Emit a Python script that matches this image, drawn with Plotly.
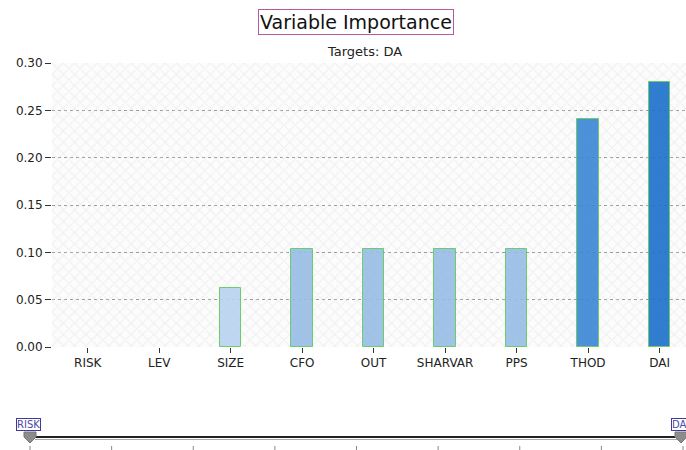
import plotly.graph_objects as go

# data
categories = ["RISK", "LEV", "SIZE", "CFO", "OUT", "SHARVAR", "PPS", "THOD", "DAI"]
importance = [0.0, 0.0, 0.0625, 0.104, 0.104, 0.104, 0.104, 0.241, 0.280]
bar_colors = ["#b9d3f0", "#b9d3f0", "#b9d3f0", "#98bde6", "#98bde6",
              "#98bde6", "#98bde6", "#3b86d6", "#1c70cc"]
slider_ends = ["RISK", "DA"]

W, H = 686, 450
L, T, B = 52, 63, 103
PW, PH = W - L, H - T - B


def px(x):
    return (x - L) / PW


def py(y):
    return (H - B - y) / PH


fig = go.Figure()

# crosshatch background behind the bars
fig.add_trace(go.Bar(
    x=[0.5], y=[0.3], width=[1], xaxis="x", yaxis="y",
    marker=dict(color="rgba(0,0,0,0)", line=dict(width=0),
                pattern=dict(shape="x", fgcolor="#e2e2e2", bgcolor="rgba(0,0,0,0)",
                             size=8, solidity=0.25)),
    hoverinfo="skip", showlegend=False,
))

fig.add_trace(go.Bar(
    x=categories, y=importance, xaxis="x2", yaxis="y",
    width=0.3, opacity=0.9,
    marker=dict(color=bar_colors,
                line=dict(color="#5cc85c", width=[1 if v > 0 else 0 for v in importance])),
    showlegend=False,
))

# slider drawn underneath the chart
shapes = [
    dict(type="line", xref="paper", yref="paper", x0=px(35), x1=px(680),
         y0=py(437), y1=py(437), line=dict(color="#222222", width=2)),
    dict(type="line", xref="paper", yref="paper", x0=px(35), x1=px(680),
         y0=py(439.5), y1=py(439.5), line=dict(color="#aaaaaa", width=1)),
]
n_ticks = 9
for i in range(n_ticks):
    tx = 30 + i * (683 - 30) / (n_ticks - 1)
    shapes.append(dict(type="line", xref="paper", yref="paper", x0=px(tx), x1=px(tx),
                       y0=py(446), y1=py(450), line=dict(color="#888888", width=1)))
for hx in (30, 681):
    path = "M {} {} L {} {} L {} {} L {} {} L {} {} Z".format(
        px(hx - 6), py(432), px(hx + 6), py(432), px(hx + 6), py(437),
        px(hx), py(443), px(hx - 6), py(437))
    shapes.append(dict(type="path", xref="paper", yref="paper", path=path,
                       fillcolor="#8c8c8c", line=dict(color="#777777", width=1)))

annotations = [
    dict(text="Variable Importance", xref="paper", yref="paper",
         x=px(356), y=py(22), yanchor="middle", showarrow=False,
         font=dict(family="DejaVu Sans", size=19, color="#111111"),
         bordercolor="#b8589f", borderwidth=1, borderpad=1, bgcolor="white"),
    dict(text="Targets: DA", xref="paper", yref="paper",
         x=px(364), y=py(52), yanchor="middle", showarrow=False,
         font=dict(family="DejaVu Sans", size=13, color="#222222")),
    dict(text=slider_ends[0], xref="paper", yref="paper",
         x=px(16), y=py(424.5), xanchor="left", yanchor="middle", showarrow=False,
         font=dict(family="DejaVu Sans", size=10, color="#4a4aa8"),
         bordercolor="#3a3aa0", borderwidth=1, borderpad=0, bgcolor="white"),
    dict(text=slider_ends[1], xref="paper", yref="paper",
         x=px(671), y=py(424.5), xanchor="left", yanchor="middle", showarrow=False,
         font=dict(family="DejaVu Sans", size=10, color="#4a4aa8"),
         bordercolor="#3a3aa0", borderwidth=1, borderpad=0, bgcolor="white"),
]

fig.update_layout(
    width=W, height=H,
    margin=dict(l=L, r=0, t=T, b=B),
    paper_bgcolor="white", plot_bgcolor="#fcfcfc",
    font=dict(family="DejaVu Sans", size=12, color="#222222"),
    barmode="overlay", bargap=0,
    xaxis=dict(visible=False, range=[0, 1], fixedrange=True),
    xaxis2=dict(overlaying="x", side="bottom", type="category",
                range=[-0.5, 8.37], showgrid=False, showline=False,
                ticks="outside", ticklen=5, tickcolor="#333333",
                tickfont=dict(size=12, color="#222222")),
    yaxis=dict(range=[0, 0.3], dtick=0.05, tickformat=".2f",
               showgrid=True, gridcolor="#999999", griddash="3px,3px", gridwidth=1,
               zeroline=False, showline=False,
               ticks="outside", ticklen=6, tickcolor="#333333",
               tickfont=dict(size=12, color="#222222")),
    shapes=shapes,
    annotations=annotations,
)

# the page body has a default 8px margin; drop it so the figure fills the window
fig.write_html("out.html", config={"displayModeBar": False},
               post_script="document.body.style.margin='0';")
